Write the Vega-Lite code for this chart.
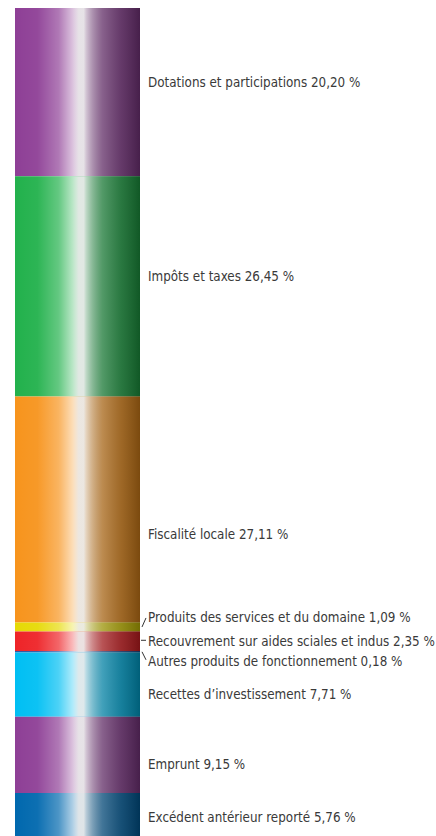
{
  "$schema": "https://vega.github.io/schema/vega-lite/v6.json",
  "width": 125,
  "height": 833,
  "padding": {"left": 15, "top": 8, "right": 0, "bottom": 0},
  "autosize": {"type": "pad"},
  "background": "white",
  "config": {"view": {"stroke": null}, "text": {"font": "DejaVu Sans Condensed", "fontSize": 13.3, "color": "#3a3a3a", "align": "left", "baseline": "middle", "dx": 8}},
  "data": {
    "values": [
      {"rang": 1, "poste": "Dotations et participations", "pct": 20.20, "libelle": "Dotations et participations 20,20 %"},
      {"rang": 2, "poste": "Impôts et taxes", "pct": 26.45, "libelle": "Impôts et taxes 26,45 %"},
      {"rang": 3, "poste": "Fiscalité locale", "pct": 27.11, "libelle": "Fiscalité locale 27,11 %"},
      {"rang": 4, "poste": "Produits des services et du domaine", "pct": 1.09, "libelle": "Produits des services et du domaine 1,09 %"},
      {"rang": 5, "poste": "Recouvrement sur aides sciales et indus", "pct": 2.35, "libelle": "Recouvrement sur aides sciales et indus 2,35 %"},
      {"rang": 6, "poste": "Autres produits de fonctionnement", "pct": 0.18, "libelle": "Autres produits de fonctionnement 0,18 %"},
      {"rang": 7, "poste": "Recettes d’investissement", "pct": 7.71, "libelle": "Recettes d’investissement 7,71 %"},
      {"rang": 8, "poste": "Emprunt", "pct": 9.15, "libelle": "Emprunt 9,15 %"},
      {"rang": 9, "poste": "Excédent antérieur reporté", "pct": 5.76, "libelle": "Excédent antérieur reporté 5,76 %"}
    ]
  },
  "transform": [
    {"stack": "pct", "groupby": [], "sort": [{"field": "rang", "order": "ascending"}], "as": ["y0", "y1"]},
    {"calculate": "(datum.y0 + datum.y1) / 2", "as": "ymid"}
  ],
  "layer": [
    {
      "mark": {"type": "rect"},
      "encoding": {
        "x": {"datum": 0, "type": "quantitative", "scale": {"domain": [0, 1], "nice": false}, "axis": null},
        "x2": {"datum": 1},
        "y": {"field": "y0", "type": "quantitative", "scale": {"domain": [0, 100], "reverse": true, "nice": false, "zero": false}, "axis": null},
        "y2": {"field": "y1"},
        "color": {
          "field": "poste", "type": "nominal", "legend": null,
          "scale": {
            "domain": ["Dotations et participations", "Impôts et taxes", "Fiscalité locale", "Produits des services et du domaine", "Recouvrement sur aides sciales et indus", "Autres produits de fonctionnement", "Recettes d’investissement", "Emprunt", "Excédent antérieur reporté"],
            "range": ["#8e3f96", "#22b14c", "#f7941d", "#e6da05", "#ee2428", "#2a5aa8", "#00bff3", "#8e3f96", "#0068ae"]
          }
        }
      }
    },
    {
      "mark": {
        "type": "rect",
        "color": {
          "gradient": "linear", "x1": 0, "x2": 1, "y1": 0, "y2": 0,
          "stops": [
            {"offset": 0, "color": "rgba(255,255,255,0)"},
            {"offset": 0.18, "color": "rgba(255,255,255,0.05)"},
            {"offset": 0.35, "color": "rgba(255,255,255,0.3)"},
            {"offset": 0.46, "color": "rgba(255,255,255,0.68)"},
            {"offset": 0.51, "color": "rgba(235,235,235,0.95)"},
            {"offset": 0.55, "color": "rgba(235,235,235,0.95)"},
            {"offset": 0.57, "color": "rgba(225,225,225,0.82)"},
            {"offset": 0.62, "color": "rgba(190,190,190,0.66)"},
            {"offset": 0.7, "color": "rgba(130,130,130,0.5)"},
            {"offset": 0.85, "color": "rgba(50,50,50,0.45)"},
            {"offset": 1, "color": "rgba(0,0,0,0.5)"}
          ]
        }
      },
      "encoding": {
        "x": {"datum": 0, "type": "quantitative"},
        "x2": {"datum": 1},
        "y": {"field": "y0", "type": "quantitative"},
        "y2": {"field": "y1"}
      }
    },
    {
      "transform": [{"filter": {"field": "rang", "oneOf": [1, 2, 4]}}],
      "mark": {"type": "text", "dy": -9},
      "encoding": {
        "x": {"datum": 1, "type": "quantitative"},
        "y": {"field": "ymid", "type": "quantitative"},
        "text": {"field": "libelle"}
      }
    },
    {
      "transform": [{"filter": {"field": "rang", "oneOf": [5, 9]}}],
      "mark": {"type": "text", "dy": 1},
      "encoding": {
        "x": {"datum": 1, "type": "quantitative"},
        "y": {"field": "ymid", "type": "quantitative"},
        "text": {"field": "libelle"}
      }
    },
    {
      "transform": [{"filter": {"field": "rang", "oneOf": [6, 7, 8]}}],
      "mark": {"type": "text", "dy": 10},
      "encoding": {
        "x": {"datum": 1, "type": "quantitative"},
        "y": {"field": "ymid", "type": "quantitative"},
        "text": {"field": "libelle"}
      }
    },
    {
      "transform": [{"filter": {"field": "rang", "oneOf": [3]}}],
      "mark": {"type": "text", "dy": 25},
      "encoding": {
        "x": {"datum": 1, "type": "quantitative"},
        "y": {"field": "ymid", "type": "quantitative"},
        "text": {"field": "libelle"}
      }
    },
    {
      "transform": [{"filter": {"field": "rang", "oneOf": [4]}}],
      "mark": {"type": "rule", "color": "#333333", "strokeWidth": 1, "xOffset": 2, "x2Offset": 6, "yOffset": 0, "y2Offset": -9},
      "encoding": {
        "x": {"datum": 1, "type": "quantitative"},
        "x2": {"datum": 1},
        "y": {"field": "ymid", "type": "quantitative"},
        "y2": {"field": "ymid"}
      }
    },
    {
      "transform": [{"filter": {"field": "rang", "oneOf": [5]}}],
      "mark": {"type": "rule", "color": "#333333", "strokeWidth": 1, "xOffset": 1, "x2Offset": 6, "yOffset": -1, "y2Offset": -1},
      "encoding": {
        "x": {"datum": 1, "type": "quantitative"},
        "x2": {"datum": 1},
        "y": {"field": "ymid", "type": "quantitative"},
        "y2": {"field": "ymid"}
      }
    },
    {
      "transform": [{"filter": {"field": "rang", "oneOf": [6]}}],
      "mark": {"type": "rule", "color": "#333333", "strokeWidth": 1, "xOffset": 2, "x2Offset": 6, "yOffset": 0, "y2Offset": 8},
      "encoding": {
        "x": {"datum": 1, "type": "quantitative"},
        "x2": {"datum": 1},
        "y": {"field": "ymid", "type": "quantitative"},
        "y2": {"field": "ymid"}
      }
    }
  ]
}
